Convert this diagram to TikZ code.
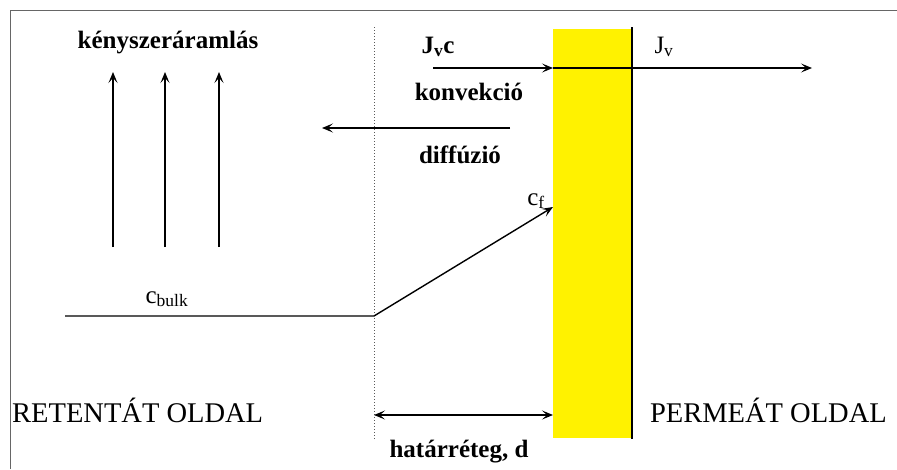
\documentclass[tikz,border=0pt]{standalone}
\usepackage{fontspec}
\setmainfont{Liberation Serif}
\newfontfamily\tms{Liberation Serif}
\usetikzlibrary{arrows.meta}
\tikzset{
  tip/.style={-{Stealth[length=11pt,width=9pt,inset=5pt]}},
  dtip/.style={{Stealth[length=11pt,width=9pt,inset=5pt]}-{Stealth[length=11pt,width=9pt,inset=5pt]}},
  ln/.style={line width=1.4pt},
  lbl/.style={inner sep=0pt,font=\tms\fontsize{25}{28}\selectfont\bfseries},
  side/.style={inner sep=0pt,font=\tms\fontsize{28.5}{31}\selectfont},
  sym/.style={inner sep=0pt,font=\tms\fontsize{25}{28}\selectfont}
}
\begin{document}
\begin{tikzpicture}[x=1pt,y=-1pt]
\useasboundingbox (0,0) rectangle (897,469);
% frame
\draw[gray!80!black,line width=1pt] (10.5,469) -- (10.5,10.5) -- (897,10.5);
% membrane
\fill[yellow] (553,29) rectangle (632,438);
\draw[line width=1.5pt] (632,27) -- (632,439);
% boundary layer line
\draw[dotted,gray!70!black,line width=1pt] (374,27) -- (374,440);
% coordinates
\coordinate (b0) at (65,316);
\coordinate (b1) at (374,316);
\coordinate (cf) at (553,207);
\coordinate (jc0) at (433,68);
\coordinate (jc1) at (553,68);
\coordinate (jv1) at (812,68);
\coordinate (df0) at (510,128);
\coordinate (df1) at (322,128);
\coordinate (d0) at (374,415);
\coordinate (d1) at (553,415);
\foreach \x [count=\i] in {113,165,219} {
  \coordinate (k\i b) at (\x,247);
  \coordinate (k\i t) at (\x,72);
}
% texts
\node[lbl] (kf) at (168,43) {kényszeráramlás};
\node[lbl,anchor=base] (jvc) at (438,53) {J\textsubscript{v}c};
\node[lbl,anchor=base] (konv) at (469,100) {konvekció};
\node[lbl,anchor=base] (diff) at (460,163) {diffúzió};
\node[lbl,anchor=base] (hat) at (459,457) {határréteg, d};
\node[sym,anchor=base] (jv) at (664,53) {J\textsubscript{v}};
\node[sym,anchor=base] (cflbl) at (536,205) {c\textsubscript{f}};
\node[sym,anchor=base] (cb) at (167,303) {c\textsubscript{bulk}};
\node[side,anchor=base west] (ret) at (12,422) {RETENTÁT OLDAL};
\node[side,anchor=base east] (perm) at (887,422) {PERMEÁT OLDAL};
% arrows
\foreach \i in {1,2,3} \draw[ln,tip] (k\i b) -- (k\i t);
\draw[ln,tip] (jc0) -- (jc1);
\draw[ln,tip] (jc1) -- (jv1);
\draw[ln,tip] (df0) -- (df1);
\draw[ln,tip] (b0) -- (b1) -- (cf);
\draw[ln,dtip] (d0) -- (d1);
\end{tikzpicture}
\end{document}
